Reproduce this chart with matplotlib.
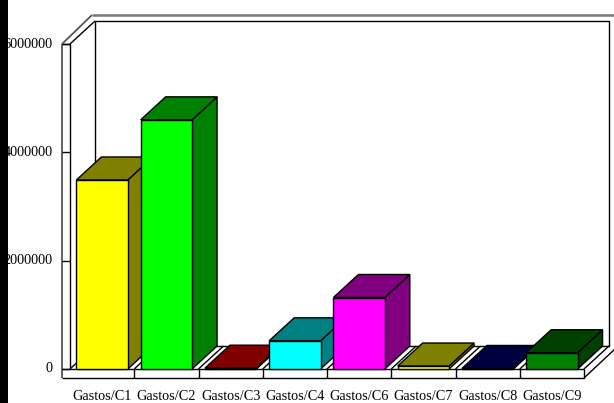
import matplotlib
matplotlib.use("Agg")
import matplotlib.pyplot as plt
from matplotlib.patches import Polygon, Rectangle

# data
categories = ["Gastos/C1", "Gastos/C2", "Gastos/C3", "Gastos/C4",
              "Gastos/C6", "Gastos/C7", "Gastos/C8", "Gastos/C9"]
values = [3490000, 4600000, 15000, 520000, 1320000, 55000, 10000, 300000]
front_colors = ["#FFFF00", "#00FF00", "#FF0000", "#00FFFF",
                "#FF00FF", "#FFFF00", "#000080", "#008000"]
side_colors = ["#808000", "#008000", "#800000", "#008080",
               "#800080", "#808000", "#000040", "#004000"]
y_ticks = [0, 2000000, 4000000, 6000000]
y_tick_labels = ["0", "2000000", "4000000", "6000000"]

W, H = 614, 403
fig = plt.figure(figsize=(W / 100, H / 100), dpi=100)
fig.patch.set_facecolor("white")

# front plane of the plot box, in pixels
left_px, right_px, top_px, bottom_px = 70, 584, 44, 369
ax = fig.add_axes([left_px / W, (H - bottom_px) / H,
                   (right_px - left_px) / W, (bottom_px - top_px) / H])
n = len(categories)
ymax = y_ticks[-1]
ax.set_xlim(-0.5, n - 0.5)
ax.set_ylim(0, ymax)
ax.axis("off")

# pixel -> data unit helpers for the 3d depth
px_x = n / (right_px - left_px)
px_y = ymax / (bottom_px - top_px)
dx = 25 * px_x
dy = 23 * px_y
x0, x1 = -0.5, n - 0.5
xo = x0 - 8 * px_x          # outer edge of the left wall
yo = -9 * px_y              # bottom of the floor slab
font = dict(fontsize=10.3, family="Liberation Serif")

def line(xs, ys, color="black", lw=1.0, z=1):
    ax.plot(xs, ys, color=color, lw=lw, clip_on=False, zorder=z,
            solid_capstyle="butt")

# back wall
line([x0 + dx, x1 + dx, x1 + dx, x0 + dx, x0 + dx],
     [dy, dy, ymax + dy, ymax + dy, dy])
# left wall
line([x0, x0], [0, ymax])
line([x0, x0 + dx], [ymax, ymax + dy])
line([x0, x0 + dx], [0, dy])
line([xo, x0], [ymax, ymax])
line([xo, xo], [yo, ymax], color="#555555", lw=1.3)
line([xo, xo + 30 * px_x], [ymax, ymax + 29 * px_y], color="#555555", lw=1.3)
line([xo + 30 * px_x, x1 + 40 * px_x], [ymax + 29 * px_y, ymax + 29 * px_y],
     color="#777777", lw=1.8)
# floor slab
line([xo, x1], [0, 0])
line([xo, x1, x1], [yo, yo, 0])
line([x1, x1 + dx], [0, dy])
line([x1, x1 + 32 * px_x], [yo, yo + 30 * px_y])
# y ticks on the wall
for t, lab in zip(y_ticks, y_tick_labels):
    line([xo, x0], [t, t])
    ax.text(x0 - 17 * px_x, t, lab, ha="right", va="center", **font)
# floor diagonals and separators at slot boundaries
for k in range(1, n):
    line([x0 + k, x0 + k + dx], [0, dy])
    line([x0 + k, x0 + k], [yo, 0])

# category labels
for k, name in enumerate(categories):
    ax.text(k, -21 * px_y, name, ha="center", va="top", **font)

# bars
bw = 0.4
for k, v in enumerate(values):
    z = 3 + k
    xl, xr = k - bw, k + bw
    side = Polygon([(xr, 0), (xr + dx, dy), (xr + dx, v + dy), (xr, v)],
                   closed=True, facecolor=side_colors[k], edgecolor="black",
                   lw=1, zorder=z, clip_on=False)
    top = Polygon([(xl, v), (xr, v), (xr + dx, v + dy), (xl + dx, v + dy)],
                  closed=True, facecolor=side_colors[k], edgecolor="black",
                  lw=1, zorder=z, clip_on=False)
    front = Rectangle((xl, 0), 2 * bw, v, facecolor=front_colors[k],
                      edgecolor="black", lw=1, zorder=z, clip_on=False)
    ax.add_patch(side)
    ax.add_patch(top)
    ax.add_patch(front)

# black strip on the left edge
fig.patches.append(Rectangle((0, 0), 8 / W, 1, transform=fig.transFigure,
                             facecolor="black", edgecolor="none", zorder=100))

fig.savefig("out.png", dpi=100)
